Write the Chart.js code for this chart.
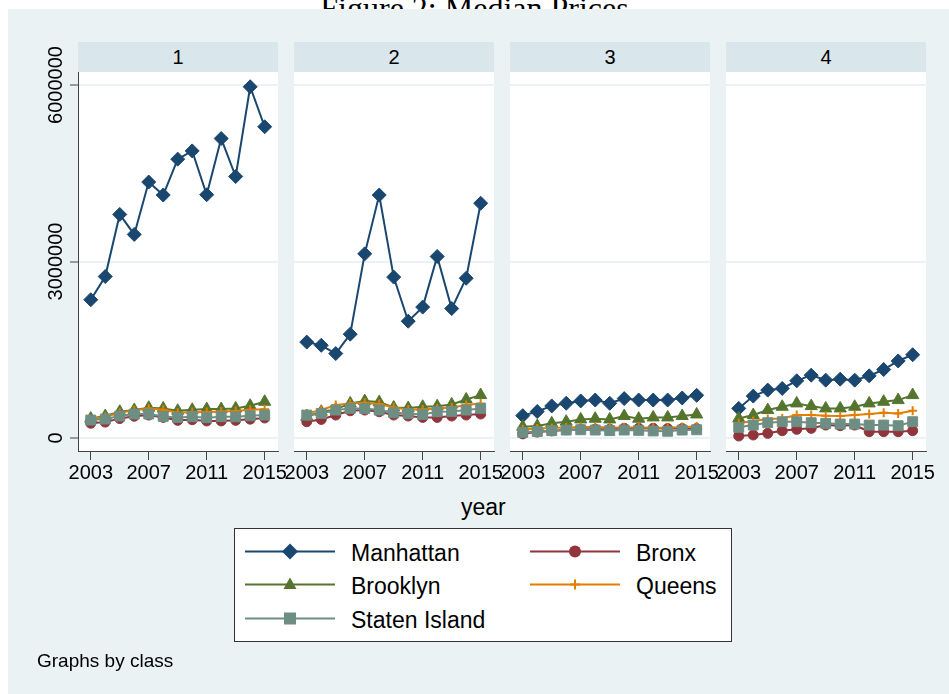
<!DOCTYPE html>
<html>
<head>
<meta charset="utf-8">
<script src="https://cdn.jsdelivr.net/npm/chart.js@4.4.1/dist/chart.umd.min.js"></script>
<style>
    body { margin: 0; width: 949px; height: 694px; background: #fff; position: relative; overflow: hidden; font-family: "Liberation Sans", Arial, sans-serif; color: #000; }
    #title { position: absolute; left: 0; width: 949px; top: -8px; text-align: center; font-family: "Liberation Serif", serif; font-size: 32px; line-height: 32px; }
    #bg { position: absolute; left: 8px; top: 9px; width: 941px; height: 685px; background: #eaf2f3; }
    .strip { position: absolute; top: 42px; height: 30px; width: 200px; background: #d9e6eb; text-align: center; font-size: 20px; line-height: 30px; }
    .plot { position: absolute; top: 72px; height: 379px; width: 200px; background: #fff; }
    canvas { position: absolute; top: 30px; }
    .txt { position: absolute; white-space: nowrap; }
    #legend { position: absolute; left: 234px; top: 528px; width: 496px; height: 112px; background: #fff; border: 1px solid #333; }
    .leg { position: absolute; font-size: 23px; line-height: 26px; white-space: nowrap; }
</style>
</head>
<body>
<div id="title">Figure 2: Median Prices</div>
<div id="bg"></div>
<div id="panels"></div>
<div class="txt" style="left:461px; top:494px; font-size:23px;">year</div>
<div id="legend"></div>
<svg id="legsvg" width="949" height="694" style="position:absolute;left:0;top:0;pointer-events:none"></svg>
<div class="txt" style="left:37px; top:650px; font-size:19px;">Graphs by class</div>

<script>
// years on the x axis, one value per year and per class panel
const years = [2003, 2004, 2005, 2006, 2007, 2008, 2009, 2010, 2011, 2012, 2013, 2014, 2015];
const classLabels = ['1', '2', '3', '4'];
const xTicks = [2003, 2007, 2011, 2015];
const yTicks = [0, 3000000, 6000000];

const manhattan = [
    [2350000, 2745000, 3800000, 3460000, 4350000, 4130000, 4740000, 4880000, 4135000, 5090000, 4445000, 5970000, 5290000],
    [1630000, 1575000, 1435000, 1765000, 3130000, 4130000, 2735000, 1985000, 2225000, 3085000, 2200000, 2715000, 3990000],
    [380000, 450000, 545000, 590000, 630000, 645000, 590000, 670000, 645000, 645000, 645000, 680000, 725000],
    [503000, 712000, 814000, 842000, 972000, 1068000, 983000, 1000000, 983000, 1056000, 1164000, 1310000, 1415000]
];
const bronx = [
    [250000, 270000, 330000, 370000, 390000, 350000, 300000, 310000, 290000, 290000, 300000, 320000, 340000],
    [277000, 316000, 390000, 463000, 475000, 446000, 390000, 373000, 350000, 350000, 373000, 390000, 407000],
    [70000, 100000, 120000, 140000, 150000, 150000, 150000, 165000, 165000, 165000, 160000, 160000, 160000],
    [34000, 51000, 79000, 124000, 147000, 164000, 220000, 209000, 220000, 107000, 107000, 107000, 124000]
];
const brooklyn = [
    [330000, 373000, 446000, 475000, 514000, 503000, 463000, 480000, 492000, 492000, 503000, 548000, 616000],
    [361000, 446000, 486000, 588000, 627000, 610000, 520000, 508000, 531000, 540000, 570000, 655000, 729000],
    [192000, 203000, 249000, 277000, 316000, 328000, 316000, 373000, 328000, 350000, 350000, 373000, 400000],
    [333000, 390000, 475000, 531000, 588000, 542000, 503000, 503000, 531000, 588000, 616000, 644000, 729000]
];
const queens = [
    [320000, 360000, 430000, 470000, 500000, 480000, 430000, 440000, 440000, 450000, 460000, 480000, 490000],
    [418000, 475000, 560000, 588000, 598000, 576000, 520000, 486000, 486000, 503000, 520000, 560000, 588000],
    [150000, 160000, 170000, 180000, 185000, 185000, 180000, 180000, 180000, 175000, 175000, 185000, 195000],
    [249000, 288000, 322000, 333000, 390000, 390000, 378000, 373000, 390000, 407000, 429000, 418000, 463000]
];
const statenIsland = [
    [305000, 322000, 373000, 407000, 407000, 367000, 350000, 362000, 345000, 362000, 360000, 378000, 390000],
    [390000, 418000, 475000, 503000, 503000, 475000, 429000, 418000, 401000, 446000, 452000, 475000, 503000],
    [95000, 110000, 125000, 135000, 140000, 135000, 125000, 135000, 130000, 120000, 115000, 135000, 140000],
    [181000, 220000, 260000, 277000, 277000, 260000, 249000, 237000, 237000, 220000, 220000, 209000, 277000]
];

const series = [
    { name: 'Manhattan', values: manhattan, color: '#1a476f', style: 'rectRot', r: 7, order: 5 },
    { name: 'Bronx', values: bronx, color: '#90353b', style: 'circle', r: 5, order: 4 },
    { name: 'Brooklyn', values: brooklyn, color: '#55752f', style: 'triangle', r: 7, order: 3 },
    { name: 'Queens', values: queens, color: '#e37e00', style: 'cross', r: 4.5, order: 2 },
    { name: 'Staten Island', values: statenIsland, color: '#6e8e84', style: 'rect', r: 7, order: 1 }
];

const plotLefts = [78, 294, 510, 726];
const panels = document.getElementById('panels');

const yLabelPlugin = {
    id: 'yLabels',
    afterDraw(chart) {
        if (!chart.options.plugins.yLabels.show) return;
        const s = chart.scales.y;
        const ctx = chart.ctx;
        ctx.save();
        ctx.font = '20px "Liberation Sans"';
        ctx.fillStyle = '#000';
        ctx.textAlign = 'center';
        ctx.textBaseline = 'middle';
        yTicks.forEach(function (v) {
            ctx.save();
            ctx.translate(s.right - 23, s.getPixelForValue(v));
            ctx.rotate(-Math.PI / 2);
            ctx.fillText(String(v), 0, 1);
            ctx.restore();
        });
        ctx.restore();
    }
};

classLabels.forEach(function (lab, k) {
    const pl = plotLefts[k];
    const strip = document.createElement('div');
    strip.className = 'strip';
    strip.style.left = pl + 'px';
    strip.textContent = lab;
    panels.appendChild(strip);

    const plot = document.createElement('div');
    plot.className = 'plot';
    plot.style.left = pl + 'px';
    panels.appendChild(plot);

    const first = k === 0;
    const cv = document.createElement('canvas');
    const left = first ? 30 : pl - 24;
    const width = first ? 272 : 248;
    cv.width = width;
    cv.height = 461;
    cv.style.left = left + 'px';
    panels.appendChild(cv);

    new Chart(cv.getContext('2d'), {
        type: 'line',
        data: {
            datasets: series.map(function (s) {
                return {
                    label: s.name,
                    data: years.map(function (yr, i) { return { x: yr, y: s.values[k][i] }; }),
                    borderColor: s.color,
                    backgroundColor: s.color,
                    borderWidth: 2,
                    tension: 0,
                    pointStyle: s.style,
                    pointRadius: s.r,
                    pointBorderWidth: s.style === 'cross' ? 2 : 1,
                    pointBackgroundColor: s.color,
                    pointBorderColor: s.color,
                    order: s.order,
                    clip: false
                };
            })
        },
        options: {
            responsive: false,
            animation: false,
            layout: { autoPadding: false, padding: { left: first ? 0 : 24, right: 24, top: 42, bottom: 0 } },
            plugins: { legend: { display: false }, tooltip: { enabled: false }, yLabels: { show: first } },
            scales: {
                x: {
                    type: 'linear',
                    min: 2002.12,
                    max: 2015.92,
                    afterBuildTicks: function (s) { s.ticks = xTicks.map(function (v) { return { value: v }; }); },
                    afterFit: function (s) { s.height = 40; s.paddingLeft = 0; s.paddingRight = 0; },
                    grid: { drawOnChartArea: false, drawTicks: true, tickLength: 9, tickColor: '#444', tickWidth: 1 },
                    border: { display: true, color: '#444', width: 1 },
                    ticks: {
                        color: '#000', font: { family: 'Liberation Sans', size: 20 }, padding: 1, maxRotation: 0, autoSkip: false,
                        callback: function (v) { return String(v); }
                    }
                },
                y: {
                    min: -221000,
                    max: 6221000,
                    afterBuildTicks: function (s) { s.ticks = yTicks.map(function (v) { return { value: v }; }); },
                    afterFit: function (s) { s.width = first ? 48 : 0; s.paddingTop = 0; s.paddingBottom = 0; },
                    grid: { color: '#eaf2f3', lineWidth: 2, drawTicks: first, tickLength: 8, tickColor: '#444', tickWidth: 1 },
                    border: { display: first, color: '#444', width: 1 },
                    ticks: { display: false }
                }
            }
        },
        plugins: [yLabelPlugin]
    });
});

// legend
const legend = document.getElementById('legend');
const svg = document.getElementById('legsvg');
const legPos = [
    { x: 245, y: 551.5 }, { x: 530, y: 551.5 },
    { x: 245, y: 584.5 }, { x: 530, y: 584.5 },
    { x: 245, y: 618.5 }
];
function marker(s, cx, cy) {
    const c = s.color;
    if (s.style === 'rectRot') return '<polygon points="' + (cx - 8) + ',' + cy + ' ' + cx + ',' + (cy - 8) + ' ' + (cx + 8) + ',' + cy + ' ' + cx + ',' + (cy + 8) + '" fill="' + c + '"/>';
    if (s.style === 'circle') return '<circle cx="' + cx + '" cy="' + cy + '" r="6" fill="' + c + '"/>';
    if (s.style === 'triangle') return '<polygon points="' + (cx - 6.5) + ',' + (cy + 4.5) + ' ' + (cx + 6.5) + ',' + (cy + 4.5) + ' ' + cx + ',' + (cy - 7) + '" fill="' + c + '"/>';
    if (s.style === 'cross') return '<path d="M' + cx + ' ' + (cy - 5) + 'V' + (cy + 5) + 'M' + (cx - 5) + ' ' + cy + 'H' + (cx + 5) + '" stroke="' + c + '" stroke-width="2"/>';
    return '<rect x="' + (cx - 6) + '" y="' + (cy - 6) + '" width="12" height="12" fill="' + c + '"/>';
}
let svgHtml = '';
series.forEach(function (s, i) {
    const p = legPos[i];
    svgHtml += '<line x1="' + p.x + '" y1="' + p.y + '" x2="' + (p.x + 90) + '" y2="' + p.y + '" stroke="' + s.color + '" stroke-width="2"/>';
    svgHtml += marker(s, p.x + 45, p.y);
    const t = document.createElement('div');
    t.className = 'leg';
    t.style.left = (p.x + 105 - 234) + 'px';
    t.style.top = (p.y - 13 - 528) + 'px';
    t.textContent = s.name;
    legend.appendChild(t);
});
svg.innerHTML = svgHtml;
</script>
</body>
</html>
